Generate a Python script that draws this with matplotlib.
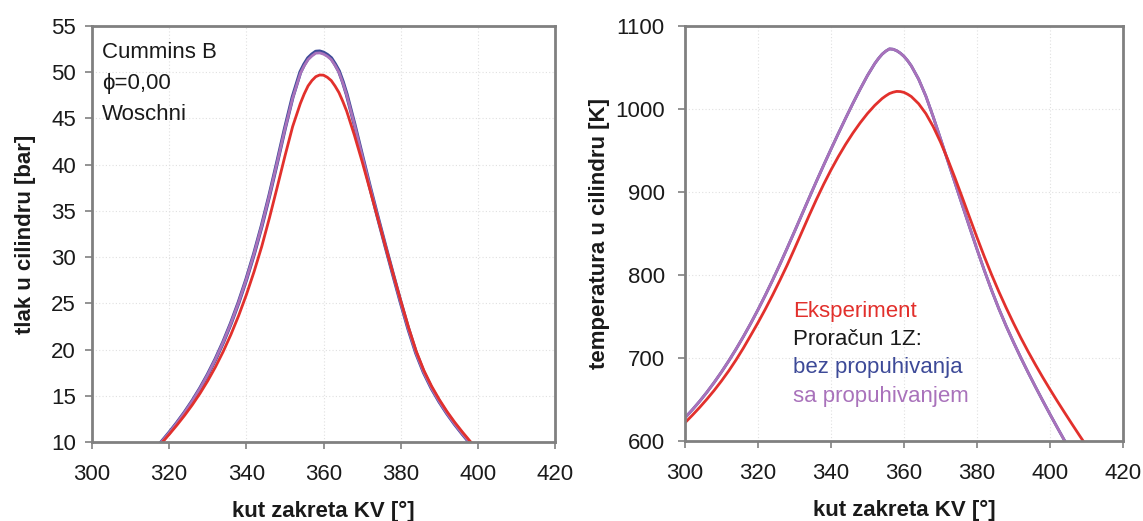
import matplotlib
matplotlib.use("Agg")
import matplotlib.pyplot as plt

plt.rcParams['font.family'] = ['Liberation Sans', 'DejaVu Sans']

# ---------------- data: cylinder pressure (left) ----------------
p_exp_x = [318, 320, 322, 324, 326, 328, 330, 332, 334, 336, 338, 340, 342, 344, 346, 348,
           350, 352, 354, 355, 356, 357, 358, 359, 360, 361, 362, 363, 364, 365, 366, 368,
           370, 372, 374, 376, 378, 380, 382, 384, 386, 388, 390, 392, 394, 396, 398, 400]
p_exp_y = [9.86, 10.82, 11.82, 12.88, 14.02, 15.26, 16.62, 18.12, 19.78, 21.62, 23.66, 25.92,
           28.42, 31.16, 34.26, 37.56, 40.92, 44.12, 46.62, 47.65, 48.52, 49.1, 49.52, 49.7,
           49.68, 49.45, 49.1, 48.5, 47.8, 46.85, 45.8, 43.2, 40.35, 37.35, 34.3, 31.25, 28.25,
           25.3, 22.45, 19.85, 17.75, 16.05, 14.6, 13.3, 12.14, 11.08, 10.08, 9.13]

p_sim_x = [316, 318, 320, 322, 324, 326, 328, 330, 332, 334, 336, 338, 340, 342, 344, 346, 348,
           350, 352, 354, 355, 356, 357, 358, 359, 360, 361, 362, 363, 364, 365, 366, 368,
           370, 372, 374, 376, 378, 380, 382, 384, 386, 388, 390, 392, 394, 396, 398]
p_bez_y = [9.05, 10.0, 11.0, 12.06, 13.2, 14.44, 15.8, 17.3, 18.96, 20.8, 22.84, 25.1, 27.6,
           30.36, 33.4, 36.72, 40.28, 43.92, 47.32, 50.02, 50.85, 51.52, 51.92, 52.22, 52.25,
           52.12, 51.87, 51.52, 50.87, 50.12, 48.97, 47.62, 44.42, 41.02, 37.66, 34.42, 31.26,
           28.16, 25.12, 22.22, 19.62, 17.52, 15.82, 14.38, 13.1, 11.94, 10.88, 9.88]
p_sa_y = [9.05, 10.0, 11.0, 12.06, 13.2, 14.44, 15.8, 17.3, 18.96, 20.8, 22.84, 25.1, 27.6,
          30.36, 33.4, 36.72, 40.25, 43.85, 47.2, 49.87, 50.7, 51.36, 51.76, 52.06, 52.09,
          51.96, 51.72, 51.37, 50.74, 50.0, 48.87, 47.55, 44.38, 41.0, 37.66, 34.42, 31.26,
          28.16, 25.12, 22.22, 19.62, 17.52, 15.82, 14.38, 13.1, 11.94, 10.88, 9.88]

# ---------------- data: cylinder temperature (right) ----------------
t_exp_x = [300, 302, 304, 306, 308, 310, 312, 314, 316, 318, 320, 322, 324, 326, 328, 330,
           332, 334, 336, 338, 340, 342, 344, 346, 348, 350, 352, 354, 355, 356, 357, 358, 359,
           360, 361, 362, 364, 366, 368, 370, 372, 374, 376, 378, 380, 382, 384, 386, 388, 390,
           392, 394, 396, 398, 400, 402, 404, 406, 408, 410]
t_exp_y = [622, 631, 640.4, 650.4, 661, 672.4, 684.6, 697.8, 712, 727.2, 742.6, 758.8, 775.8,
           793.6, 812, 831.6, 851.6, 871.6, 891, 909.4, 926.6, 942.6, 957.4, 971, 983.4, 994.6,
           1004.4, 1012.6, 1015.8, 1018.6, 1020.2, 1021.2, 1021.0, 1020.0, 1017.8, 1015, 1006.4,
           994.4, 978.8, 960.2, 939.2, 916.6, 893, 869, 845.2, 822.2, 800.4, 779.8, 760.4, 742,
           724.4, 707.8, 692, 676.8, 662.2, 648, 634.2, 620.6, 607.2, 594]

t_sim_x = [300, 302, 304, 306, 308, 310, 312, 314, 316, 318, 320, 322, 324, 326, 328, 330,
           332, 334, 336, 338, 340, 342, 344, 346, 348, 350, 352, 353, 354, 355, 356, 357, 358,
           359, 360, 361, 362, 364, 366, 368, 370, 372, 374, 376, 378, 380, 382, 384, 386, 388,
           390, 392, 394, 396, 398, 400, 402, 404, 406]
t_bez_y = [628, 637.6, 647.8, 658.8, 670.6, 683.2, 696.6, 710.8, 725.8, 741.6, 758.2, 775.6,
           793.8, 812.8, 832.4, 852.4, 872.6, 892.8, 912.8, 932.4, 951.6, 970.4, 988.8, 1006.8,
           1024, 1040.4, 1054.8, 1060.8, 1066, 1069.7, 1072.4, 1072.0, 1070.2, 1067.3, 1063.4,
           1058.2, 1052, 1036, 1015.4, 990.6, 964.2, 937.4, 910.6, 883.8, 857.2, 831, 805.6,
           781.6, 759.2, 738.4, 719, 700.4, 682.6, 665.4, 648.6, 632.2, 616.2, 600.4, 584.8]
t_sa_y = [628, 637.6, 647.8, 658.8, 670.6, 683.2, 696.6, 710.8, 725.8, 741.6, 758.2, 775.6,
          793.8, 812.8, 832.4, 852.4, 872.6, 892.8, 912.8, 932.4, 951.6, 970.4, 988.8, 1006.8,
          1024, 1040.4, 1054.8, 1060.8, 1066, 1069.7, 1072.4, 1072.0, 1070.2, 1067.3, 1063.4,
          1058.2, 1052, 1036, 1015.4, 990.6, 964.2, 937.4, 910.6, 883.8, 857.2, 831, 805.6,
          781.6, 759.2, 738.4, 719, 700.4, 682.6, 665.4, 648.6, 632.2, 616.2, 600.4, 584.8]

x_ticks = [300, 320, 340, 360, 380, 400, 420]
p_ticks = [10, 15, 20, 25, 30, 35, 40, 45, 50, 55]
t_ticks = [600, 700, 800, 900, 1000, 1100]

legend_labels = ["Eksperiment", "Proračun 1Z:", "bez propuhivanja", "sa propuhivanjem"]
info_labels = ["Cummins B", "ϕ=0,00", "Woschni"]

C_EXP = "#e2302c"
C_BEZ = "#3d4a98"
C_SA = "#a972bb"
C_SPINE = "#808080"
C_TEXT = "#1a1a1a"
FS = 16

W, H = 1143, 521
fig = plt.figure(figsize=(W / 100, H / 100), dpi=100)
fig.patch.set_facecolor("white")

ax1 = fig.add_axes([92 / W, 1 - 442 / H, (555 - 92) / W, (442 - 26) / H])
ax2 = fig.add_axes([685 / W, 1 - 441 / H, (1123 - 685) / W, (441 - 26) / H])


def style(ax, yticks, ylim, ylabel, ypad, ylabelpad):
    ax.set_xlim(300, 420)
    ax.set_ylim(*ylim)
    ax.set_xticks(x_ticks)
    ax.set_yticks(yticks)
    for s in ax.spines.values():
        s.set_color(C_SPINE)
        s.set_linewidth(2.0)
    ax.tick_params(axis="both", colors=C_SPINE, length=5, width=1.2,
                   labelsize=FS, labelcolor=C_TEXT)
    ax.tick_params(axis="x", pad=11)
    ax.tick_params(axis="y", pad=ypad)
    ax.grid(True, color="#e0e0e0", linestyle=(0, (1, 2)), linewidth=0.8)
    ax.set_axisbelow(True)
    ax.set_xlabel("kut zakreta KV [°]", fontsize=FS, fontweight="bold",
                  color=C_TEXT, labelpad=11)
    ax.set_ylabel(ylabel, fontsize=FS, fontweight="bold", color=C_TEXT,
                  labelpad=ylabelpad)


style(ax1, p_ticks, (10, 55), "tlak u cilindru [bar]", 6.5, 11)
style(ax2, t_ticks, (600, 1100), "temperatura u cilindru [K]", 9.5, 4)

lw = 2.0
ax1.plot(p_sim_x, p_bez_y, color=C_BEZ, lw=lw + 0.8, solid_capstyle="round",
         solid_joinstyle="round")
ax1.plot(p_sim_x, p_sa_y, color=C_SA, lw=lw, solid_capstyle="round", solid_joinstyle="round")
ax1.plot(p_exp_x, p_exp_y, color=C_EXP, lw=lw, solid_capstyle="round", solid_joinstyle="round")

ax2.plot(t_sim_x, t_bez_y, color=C_BEZ, lw=lw, solid_joinstyle="round")
ax2.plot(t_sim_x, t_sa_y, color=C_SA, lw=lw, solid_joinstyle="round")
ax2.plot(t_exp_x, t_exp_y, color=C_EXP, lw=lw, solid_joinstyle="round")

for i, txt in enumerate(info_labels):
    ax1.text(0.022, 0.9375 - i * 0.0757, txt, transform=ax1.transAxes, fontsize=FS,
             color=C_TEXT, va="center", ha="left")

leg_colors = [C_EXP, C_TEXT, C_BEZ, C_SA]
for i, (txt, c) in enumerate(zip(legend_labels, leg_colors)):
    ax2.text(0.2466, 0.313 - i * 0.0685, txt, transform=ax2.transAxes, fontsize=FS,
             color=c, va="center", ha="left")

fig.savefig("out.png", dpi=100, facecolor="white")
